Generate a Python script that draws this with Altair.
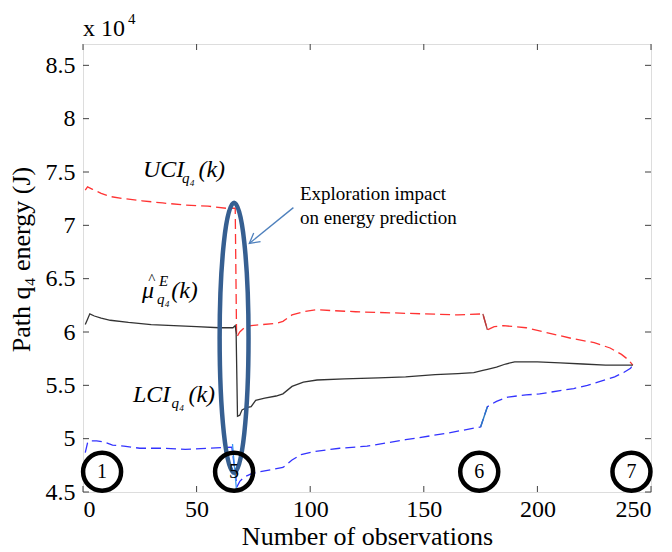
import altair as alt
import pandas as pd

FONT = "Liberation Serif"
W, H = 568, 448

# ---- data (values in units of 10^4 J) ----
uci_k = [1, 2, 4, 8, 12, 18, 26, 35, 45, 55, 63, 67, 67.6, 69, 71, 74, 79, 85, 88, 92, 97, 103,
         110, 120, 135, 150, 165, 176, 178, 181, 185, 190, 195, 205, 215, 225, 232, 237, 240, 242]
uci_v = [7.33, 7.36, 7.34, 7.30, 7.27, 7.25, 7.23, 7.21, 7.19, 7.18, 7.16, 7.16, 5.95, 6.00, 6.04,
         6.06, 6.07, 6.08, 6.10, 6.16, 6.19, 6.21, 6.20, 6.19, 6.18, 6.17, 6.16, 6.17, 6.02, 6.05,
         6.06, 6.05, 6.04, 5.99, 5.94, 5.90, 5.85, 5.79, 5.74, 5.69]

mean_k = [1, 2, 3, 5, 8, 12, 20, 30, 40, 50, 60, 66, 67, 67.4, 68, 69, 70, 72, 74, 76, 80, 85, 88,
          92, 97, 103, 115, 130, 142, 155, 165, 172, 176, 178, 182, 186, 190, 200, 210, 220, 230, 242]
mean_v = [6.07, 6.12, 6.17, 6.15, 6.13, 6.11, 6.09, 6.07, 6.06, 6.05, 6.04, 6.04, 6.06, 5.99, 5.21,
          5.22, 5.27, 5.29, 5.30, 5.36, 5.38, 5.40, 5.42, 5.49, 5.53, 5.55, 5.56, 5.57, 5.58, 5.60,
          5.61, 5.62, 5.64, 5.65, 5.67, 5.70, 5.72, 5.72, 5.71, 5.70, 5.69, 5.69]

lci_k = [1, 2, 3, 6, 9, 13, 18, 25, 35, 45, 55, 65.5, 67.8, 69, 71, 74, 78, 83, 88, 92, 96, 102,
         113, 125, 142, 160, 175, 178, 182, 187, 195, 201, 210, 216, 222, 228, 234, 238, 241, 242]
lci_v = [4.87, 4.96, 4.98, 4.98, 4.97, 4.94, 4.93, 4.91, 4.91, 4.90, 4.91, 4.92, 4.55, 4.60, 4.64,
         4.67, 4.69, 4.71, 4.73, 4.80, 4.85, 4.88, 4.91, 4.93, 4.99, 5.05, 5.11, 5.30, 5.35, 5.39,
         5.41, 5.42, 5.45, 5.47, 5.50, 5.54, 5.58, 5.62, 5.66, 5.69]

# short solid jump segments
lci_drop_k = [65.8, 67.5]
lci_drop_v = [4.95, 4.53]
lci_jump_k = [175, 178]
lci_jump_v = [5.11, 5.30]
uci_jump_k = [176, 178]
uci_jump_v = [6.17, 6.02]

x_ticks = [0, 50, 100, 150, 200, 250]
y_ticks = [4.5, 5, 5.5, 6, 6.5, 7, 7.5, 8, 8.5]

circle_k = [8.4, 66.5, 174.4, 241.4]
circle_v = [4.69, 4.69, 4.69, 4.69]
circle_labels = ["1", "5", "6", "7"]

ellipse_k = [66.5]
ellipse_v = [5.945]

arrow_k = [92.6, 73.2]
arrow_v = [7.166, 6.83]

note_lines = ["Exploration impact", "on energy prediction"]
note_k = [95.5, 95.5]
note_v = [7.29, 7.07]

big_texts = ["UCI", "(k)", "\u03bc", "(k)", "LCI", "(k)"]
big_k = [26.4, 50.8, 26.0, 38.8, 22.0, 46.4]
big_v = [7.52, 7.52, 6.385, 6.385, 5.41, 5.41]
small_texts = ["q\u2084", "E", "q\u2084", "q\u2084", "^"]
small_k = [43.6, 33.4, 32.6, 39.0, 28.6]
small_v = [7.44, 6.48, 6.31, 5.33, 6.50]

xs = alt.Scale(domain=[0, 250], nice=False, zero=False)
ys = alt.Scale(domain=[4.5, 8.7], nice=False, zero=False)

x_axis = alt.Axis(values=x_ticks, format="d", ticks=False, domain=False, grid=False,
                  labelFont=FONT, labelFontSize=24, labelColor="black", labelPadding=5,
                  title="Number of observations", titleFont=FONT, titleFontSize=26,
                  titleFontWeight="normal", titleColor="black", titleY=52,
                  titleBaseline="alphabetic")
y_axis = alt.Axis(values=y_ticks, format="~g", ticks=False, domain=False, grid=False,
                  labelFont=FONT, labelFontSize=24, labelColor="black", labelPadding=8,
                  title="Path q\u2084  energy (J)", titleFont=FONT, titleFontSize=26,
                  titleFontWeight="normal", titleColor="black", titleAngle=270,
                  titleX=-62, titleY=215, titleAlign="center", titleBaseline="middle")

XE = alt.X("k:Q", scale=xs, axis=x_axis)
YE = alt.Y("v:Q", scale=ys, axis=y_axis)


def df(k, v):
    return pd.DataFrame({"k": k, "v": v})


def enc(ch):
    return ch.encode(x=XE, y=YE)


uci = enc(alt.Chart(df(uci_k, uci_v)).mark_line(color="#ff3333", strokeWidth=1.3,
                                                 strokeDash=[10, 5]))
mean = enc(alt.Chart(df(mean_k, mean_v)).mark_line(color="#333333", strokeWidth=1.3))
lci = enc(alt.Chart(df(lci_k, lci_v)).mark_line(color="#3333ff", strokeWidth=1.3,
                                                 strokeDash=[10, 5]))
lci_drop = enc(alt.Chart(df(lci_drop_k, lci_drop_v)).mark_line(color="#3a9af0", strokeWidth=1.3))
lci_jump = enc(alt.Chart(df(lci_jump_k, lci_jump_v)).mark_line(color="#2a78c0", strokeWidth=1.4))
uci_jump = enc(alt.Chart(df(uci_jump_k, uci_jump_v)).mark_line(color="#b04040", strokeWidth=1.4))

tick_col = "#404040"
xt = pd.DataFrame({"k": x_ticks})
yt = pd.DataFrame({"v": y_ticks})
xtick_b = alt.Chart(xt).mark_rule(color=tick_col).encode(
    x=XE, y=alt.value(H), y2=alt.value(H - 6))
xtick_t = alt.Chart(xt).mark_rule(color=tick_col).encode(
    x=XE, y=alt.value(0), y2=alt.value(6))
ytick_l = alt.Chart(yt).mark_rule(color=tick_col).encode(
    y=YE, x=alt.value(0), x2=alt.value(6))
ytick_r = alt.Chart(yt).mark_rule(color=tick_col).encode(
    y=YE, x=alt.value(W), x2=alt.value(W - 6))

ellipse_path = "M0,-1 A0.107,1 0 1,1 0,1 A0.107,1 0 1,1 0,-1 Z"
ellipse = enc(alt.Chart(df(ellipse_k, ellipse_v)).mark_point(
    shape=ellipse_path, size=72900, filled=False, stroke="#365f91", strokeWidth=4.5, opacity=1))

arrow_line = enc(alt.Chart(df(arrow_k, arrow_v)).mark_line(color="#4f81bd", strokeWidth=1.3))
arrow_head = enc(alt.Chart(df(arrow_k[1:], arrow_v[1:])).mark_point(
    shape="M-1,-0.55 L0,0 L-1,0.55", size=400, angle=141.5, filled=False,
    stroke="#4f81bd", strokeWidth=1.3, opacity=1))

circ_df = pd.DataFrame({"k": circle_k, "v": circle_v, "label": circle_labels})
circles = enc(alt.Chart(circ_df).mark_point(
    shape="circle", size=1444, filled=False, stroke="black", strokeWidth=4.5, opacity=1))
circle_txt = enc(alt.Chart(circ_df).mark_text(font=FONT, fontSize=20, color="black",
                                               baseline="middle")).encode(text="label:N")

note_df = pd.DataFrame({"k": note_k, "v": note_v, "t": note_lines})
notes = enc(alt.Chart(note_df).mark_text(font=FONT, fontSize=19, color="black", align="left",
                                          baseline="middle")).encode(text="t:N")

big_df = pd.DataFrame({"k": big_k, "v": big_v, "t": big_texts})
bigs = enc(alt.Chart(big_df).mark_text(font=FONT, fontSize=24, fontStyle="italic", color="black",
                                        align="left", baseline="middle")).encode(text="t:N")
small_df = pd.DataFrame({"k": small_k, "v": small_v, "t": small_texts})
smalls = enc(alt.Chart(small_df).mark_text(font=FONT, fontSize=15, fontStyle="italic",
                                            color="black", align="left",
                                            baseline="middle")).encode(text="t:N")

exp_df = pd.DataFrame({"t": ["x 10", "4"]})
exp_main = alt.Chart(exp_df.iloc[:1]).mark_text(font=FONT, fontSize=24, align="left",
                                                 baseline="alphabetic", color="black").encode(
    x=alt.value(0), y=alt.value(-8), text="t:N")
exp_sup = alt.Chart(exp_df.iloc[1:]).mark_text(font=FONT, fontSize=15, align="left",
                                                baseline="alphabetic", color="black").encode(
    x=alt.value(45), y=alt.value(-20), text="t:N")

chart = alt.layer(
    uci, mean, lci, lci_drop, lci_jump, uci_jump,
    xtick_b, xtick_t, ytick_l, ytick_r,
    ellipse, arrow_line, arrow_head, circles, circle_txt, notes, bigs, smalls,
    exp_main, exp_sup,
).properties(
    width=W, height=H,
    autosize=alt.AutoSizeParams(type="none"),
    padding={"left": 83, "top": 44, "right": 21, "bottom": 60},
).configure_view(stroke="#404040", strokeWidth=1.2).configure(background="white")

chart.save("out.html", embed_options={"renderer": "svg", "actions": False})
